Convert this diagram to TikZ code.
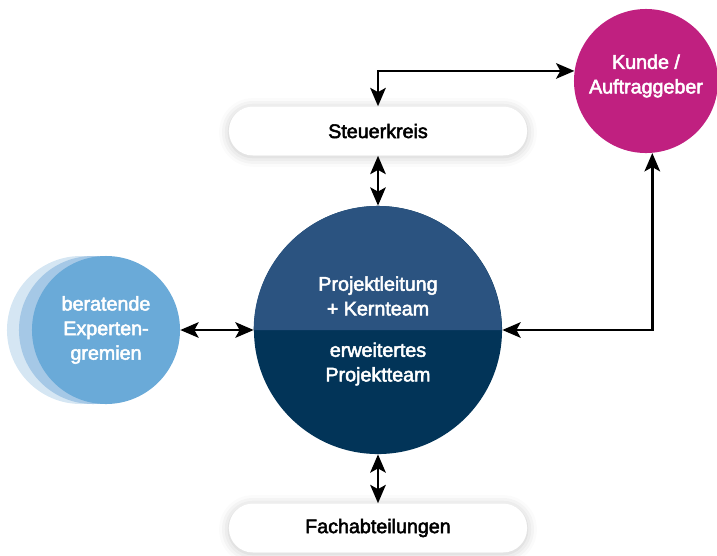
\documentclass[tikz,border=0pt]{standalone}
\usepackage{fontspec}
\setmainfont{Liberation Sans}[FakeBold=2.6]
\usetikzlibrary{arrows.meta,shadows.blur}
\definecolor{kernblau}{RGB}{43,83,128}
\definecolor{teamblau}{RGB}{2,52,88}
\definecolor{kundenrot}{RGB}{192,32,128}
\definecolor{gremium}{RGB}{106,170,216}
\definecolor{gremiumhell}{RGB}{165,200,230}
\definecolor{gremiumblass}{RGB}{213,230,243}

\begin{document}
\begin{tikzpicture}[x=0.025cm, y=-0.025cm]
\tikzset{kreis/.style = {shape=circle, draw=none, text=white, align=center, font=\fontsize{14}{17.5}\selectfont}}
\tikzset{kasten/.style = {shape=rectangle, rounded corners=0.6cm, fill=white, minimum width=7.45cm, minimum height=1.225cm, font=\fontsize{14}{17.5}\selectfont,
    blur shadow={shadow xshift=0pt, shadow yshift=-1pt, shadow blur radius=7pt, shadow opacity=22}}}
\tikzset{link/.style = {draw=black, line width=2pt, {Stealth[length=13pt, width=11pt, inset=3pt]}-{Stealth[length=13pt, width=11pt, inset=3pt]}}}
\useasboundingbox (0,0) rectangle (717,555);

% Kern: Projektleitung oben, erweitertes Team unten
\node[kreis, fill=teamblau, minimum size=6.2cm] (core) at (378,330){};
\fill[kernblau] (core.west) arc[start angle=180, end angle=0, radius=3.1cm] -- cycle;
\node[kreis] (kern) at (378,296){Projektleitung\\+ Kernteam};
\node[kreis] (team) at (378,364){erweitertes\\Projektteam};

% Kunde und Gremien
\node[kreis, fill=kundenrot, minimum size=3.6cm] (kunde) at (646,81){};
\node[kreis] (kundetext) at (646,76){Kunde /\\Auftraggeber};
\node[kreis, fill=gremiumblass, minimum size=3.7cm] (blass) at (81,330){};
\node[kreis, fill=gremiumhell, minimum size=3.7cm] (hell) at (93,330){};
\node[kreis, fill=gremium, minimum size=3.7cm] (gremien) at (106,330){beratende\\Experten-\\gremien};

% Kaesten
\node[kasten] (steuer) at (378,131){Steuerkreis};
\node[kasten] (fach) at (378,528){Fachabteilungen};

% Verbindungen
\draw[link] (gremien) -- (core);
\draw[link] (steuer) -- (core);
\draw[link] (core) -- (fach);
\draw[link] (steuer.north) -- (steuer.north |- kunde.172) -- (kunde.172);
\draw[link] (kunde.-85) -- (kunde.-85 |- core.east) -- (core.east);
\end{tikzpicture}
\end{document}
